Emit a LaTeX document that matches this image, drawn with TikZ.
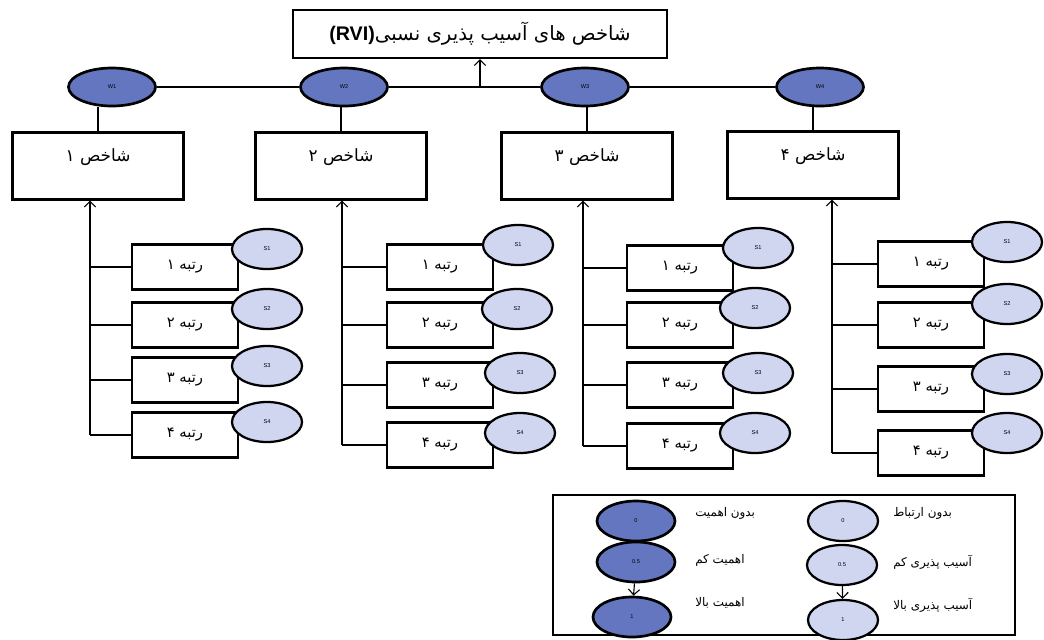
\documentclass[tikz,border=0pt]{standalone}
\usepackage{fontspec}
\setmainfont{Liberation Sans}
\newfontfamily\farsi[Script=Arabic]{DejaVu Sans}
\TeXXeTstate=1
\usetikzlibrary{arrows.meta,shapes.geometric}
\newcommand{\pers}[1]{{\farsi\beginR #1\endR}}
\definecolor{wblue}{RGB}{100,118,192}
\definecolor{slav}{RGB}{208,213,240}
\tikzset{
  idxbox/.style={draw, line width=1.6pt, minimum width=4.275cm, minimum height=1.675cm, text depth=0.55cm, font=\fontsize{12}{14}\selectfont},
  rankbox/.style={draw, line width=1.6pt, minimum width=2.65cm, minimum height=1.125cm, font=\fontsize{10.5}{12}\selectfont},
  wnode/.style={ellipse, draw, line width=1.9pt, fill=wblue, minimum width=2.175cm, minimum height=0.95cm, inner sep=0pt, font=\fontsize{4}{4}\selectfont},
  snode/.style={ellipse, draw, line width=1.6pt, fill=slav, minimum width=1.75cm, minimum height=1cm, inner sep=0pt, font=\fontsize{4}{4}\selectfont},
  legtext/.style={anchor=west, font=\fontsize{8.5}{10}\selectfont},
  >={Straight Barb[length=4pt,width=8pt]}
}
\begin{document}
\begin{tikzpicture}[x=0.025cm, y=-0.025cm, line width=0.8pt]
  \useasboundingbox (0, 0) rectangle (1044, 639);
  \node [draw, line width=1.6pt, minimum width=9.35cm, minimum height=1.2cm, font=\fontsize{14}{16}\selectfont] (T) at (480, 34) {\textbf{(RVI)}\pers{شاخص های آسیب پذیری نسبی}};
  \node [wnode] (W1) at (112, 87) {W1};
  \node [wnode] (W2) at (344, 87) {W2};
  \node [wnode] (W3) at (585, 87) {W3};
  \node [wnode] (W4) at (820, 87) {W4};
  \node [idxbox] (B1) at (98, 166) {\pers{شاخص ۱}};
  \node [idxbox] (B2) at (341, 166) {\pers{شاخص ۲}};
  \node [idxbox] (B3) at (587, 166) {\pers{شاخص ۳}};
  \node [idxbox] (B4) at (813, 165) {\pers{شاخص ۴}};
  \draw (W1) -- (W2) -- (W3) -- (W4);
  \draw [->] (W2 -| T) -- (T);
  \draw (B1.north) -- (B1.north |- W1.south);
  \draw (B2.north) -- (B2.north |- W2.south);
  \draw (B3.north) -- (B3.north |- W3.south);
  \draw (B4.north) -- (B4.north |- W4.south);

  \node [rankbox] (R11) at (185, 267) {\pers{رتبه ۱}};
  \node [snode] (S11) at (267, 249) {S1};
  \node [rankbox] (R12) at (185, 325) {\pers{رتبه ۲}};
  \node [snode] (S12) at (267, 309) {S2};
  \node [rankbox] (R13) at (185, 380) {\pers{رتبه ۳}};
  \node [snode] (S13) at (267, 366) {S3};
  \node [rankbox] (R14) at (185, 435) {\pers{رتبه ۴}};
  \node [snode] (S14) at (267, 422) {S4};
  \node [rankbox] (R21) at (440, 267) {\pers{رتبه ۱}};
  \node [snode] (S21) at (518, 245) {S1};
  \node [rankbox] (R22) at (440, 325) {\pers{رتبه ۲}};
  \node [snode] (S22) at (517, 309) {S2};
  \node [rankbox] (R23) at (440, 385) {\pers{رتبه ۳}};
  \node [snode] (S23) at (520, 373) {S3};
  \node [rankbox] (R24) at (440, 445) {\pers{رتبه ۴}};
  \node [snode] (S24) at (520, 433) {S4};
  \node [rankbox] (R31) at (680, 268) {\pers{رتبه ۱}};
  \node [snode] (S31) at (758, 248) {S1};
  \node [rankbox] (R32) at (680, 325) {\pers{رتبه ۲}};
  \node [snode] (S32) at (755, 308) {S2};
  \node [rankbox] (R33) at (680, 385) {\pers{رتبه ۳}};
  \node [snode] (S33) at (758, 373) {S3};
  \node [rankbox] (R34) at (680, 446) {\pers{رتبه ۴}};
  \node [snode] (S34) at (755, 433) {S4};
  \node [rankbox] (R41) at (931, 264) {\pers{رتبه ۱}};
  \node [snode] (S41) at (1007, 242) {S1};
  \node [rankbox] (R42) at (931, 325) {\pers{رتبه ۲}};
  \node [snode] (S42) at (1007, 304) {S2};
  \node [rankbox] (R43) at (931, 389) {\pers{رتبه ۳}};
  \node [snode] (S43) at (1007, 374) {S3};
  \node [rankbox] (R44) at (931, 453) {\pers{رتبه ۴}};
  \node [snode] (S44) at (1007, 433) {S4};

  \coordinate (K1) at (90, 0);
  \coordinate (K2) at (342, 0);
  \coordinate (K3) at (583, 0);
  \coordinate (K4) at (832, 0);
  \draw [->] (R14 -| K1) -- (K1 |- B1.south);
  \draw (R11 -| K1) -- (R11);
  \draw (R12 -| K1) -- (R12);
  \draw (R13 -| K1) -- (R13);
  \draw (R14 -| K1) -- (R14);
  \draw [->] (R24 -| K2) -- (K2 |- B2.south);
  \draw (R21 -| K2) -- (R21);
  \draw (R22 -| K2) -- (R22);
  \draw (R23 -| K2) -- (R23);
  \draw (R24 -| K2) -- (R24);
  \draw [->] (R34 -| K3) -- (K3 |- B3.south);
  \draw (R31 -| K3) -- (R31);
  \draw (R32 -| K3) -- (R32);
  \draw (R33 -| K3) -- (R33);
  \draw (R34 -| K3) -- (R34);
  \draw [->] (R44 -| K4) -- (K4 |- B4.south);
  \draw (R41 -| K4) -- (R41);
  \draw (R42 -| K4) -- (R42);
  \draw (R43 -| K4) -- (R43);
  \draw (R44 -| K4) -- (R44);

  \node [draw, line width=1.6pt, minimum width=11.55cm, minimum height=3.5cm] (L) at (784, 565) {};
  \node [wnode, minimum width=1.95cm, minimum height=1cm] (LA1) at (636, 521) {0};
  \node [wnode, minimum width=1.95cm, minimum height=1cm] (LA2) at (636, 562) {0.5};
  \node [wnode, minimum width=1.95cm, minimum height=1cm] (LA3) at (632, 617) {1};
  \node [snode] (LB1) at (843, 521) {0};
  \node [snode] (LB2) at (842, 565) {0.5};
  \node [snode] (LB3) at (843, 620) {1};
  \draw [->] (LA2) -- (LA3);
  \draw [->] (LB2) -- (LB3);
  \node [legtext] (TA1) at (690, 513) {\pers{بدون اهمیت}};
  \node [legtext] (TA2) at (690, 560) {\pers{اهمیت کم}};
  \node [legtext] (TA3) at (690, 603) {\pers{اهمیت بالا}};
  \node [legtext] (TB1) at (888, 513) {\pers{بدون ارتباط}};
  \node [legtext] (TB2) at (888, 562) {\pers{آسیب پذیری کم}};
  \node [legtext] (TB3) at (888, 605) {\pers{آسیب پذیری بالا}};
\end{tikzpicture}
\end{document}
